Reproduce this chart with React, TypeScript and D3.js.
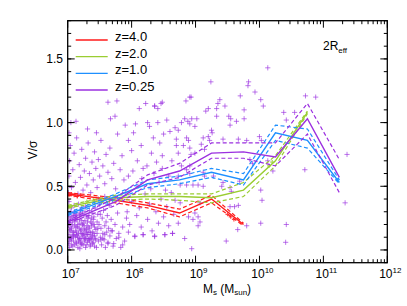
import React from "react";
import * as d3 from "d3";

// ---------- data ----------
const binLogM = [7.0, 7.75, 8.25, 8.75, 9.25, 9.75, 10.25, 10.75, 11.25];

const redMid = [0.44, 0.39, 0.35, 0.29, 0.40, 0.20];
const redUp = [0.45, 0.41, 0.37, 0.32, 0.43, 0.21];
const redLo = [0.43, 0.37, 0.33, 0.26, 0.37, 0.19];

const greenMid = [0.34, 0.41, 0.42, 0.42, 0.41, 0.47, 0.70, 1.08];
const greenUp = [0.35, 0.43, 0.44, 0.44, 0.44, 0.53, 0.74, 1.09];
const greenLo = [0.33, 0.39, 0.40, 0.39, 0.37, 0.42, 0.66, 1.07];

const blueMid = [0.28, 0.42, 0.52, 0.55, 0.61, 0.55, 0.92, 0.86, 0.53];
const blueUp = [0.29, 0.44, 0.55, 0.58, 0.64, 0.60, 0.98, 0.95, 0.55];
const blueLo = [0.27, 0.40, 0.49, 0.52, 0.57, 0.51, 0.86, 0.80, 0.52];

const purpleMid = [0.22, 0.38, 0.55, 0.62, 0.76, 0.77, 0.73, 1.03, 0.57];
const purpleUp = [0.23, 0.41, 0.59, 0.68, 0.84, 0.84, 0.84, 1.15, 0.71];
const purpleLo = [0.21, 0.35, 0.51, 0.57, 0.72, 0.72, 0.66, 0.91, 0.45];

const seriesNames = ["z=4.0", "z=2.0", "z=1.0", "z=0.25"];
const seriesColors = ["#ff1a1a", "#9acd32", "#1e90ff", "#9b30e0"];

// purple scatter (z=0.25): log10 stellar mass, V/sigma
const scatLogM = [
  7.01, 7.02, 7.03, 7.04, 7.05, 7.06, 7.07, 7.08, 7.09, 7.10,
  7.11, 7.12, 7.13, 7.14, 7.15, 7.16, 7.17, 7.18, 7.19, 7.20,
  7.21, 7.22, 7.23, 7.24, 7.25, 7.26, 7.27, 7.28, 7.29, 7.30,
  7.31, 7.32, 7.33, 7.34, 7.35, 7.36, 7.37, 7.38, 7.39, 7.40,
  7.41, 7.42, 7.43, 7.44, 7.45,
  7.02, 7.05, 7.07, 7.09, 7.11, 7.13, 7.15, 7.17, 7.19, 7.21,
  7.23, 7.25, 7.27, 7.29, 7.31, 7.33, 7.35, 7.37, 7.39, 7.41,
  7.03, 7.06, 7.08, 7.10, 7.12, 7.14, 7.16, 7.18, 7.20, 7.22,
  7.24, 7.26, 7.28, 7.30, 7.32, 7.34, 7.36, 7.38, 7.40, 7.42,
  7.01, 7.04, 7.06, 7.09, 7.12, 7.15, 7.18, 7.21, 7.24, 7.27,
  7.00, 7.02, 7.04, 7.07, 7.09, 7.11, 7.13, 7.16, 7.18, 7.20,
  7.22, 7.25, 7.27, 7.29, 7.32, 7.34, 7.37, 7.39, 7.43, 7.46,
  7.01, 7.03, 7.05, 7.08, 7.10, 7.14, 7.17, 7.19, 7.23, 7.26,
  7.28, 7.31, 7.33, 7.36, 7.38, 7.41, 7.44, 7.47, 7.51, 7.55,
  7.00, 7.03, 7.06, 7.11, 7.14, 7.19, 7.22, 7.30, 7.35, 7.42,
  7.46, 7.47, 7.48, 7.49, 7.50, 7.51, 7.52, 7.53, 7.54, 7.55,
  7.56, 7.57, 7.58, 7.59, 7.60, 7.61, 7.62, 7.63, 7.64, 7.65,
  7.66, 7.68, 7.70, 7.72, 7.74, 7.76, 7.78, 7.80, 7.83, 7.86,
  7.89, 7.92, 7.95, 7.48, 7.58,
  7.01, 7.02, 7.03, 7.04, 7.06, 7.08, 7.10, 7.12, 7.14, 7.16,
  7.18, 7.20, 7.22, 7.24, 7.26, 7.28, 7.30, 7.32, 7.34, 7.36,
  7.38, 7.40, 7.42, 7.44, 7.46, 7.48, 7.50, 7.52, 7.55, 7.58,
  7.60, 7.63, 7.66, 7.69, 7.72, 7.75, 7.78, 7.82, 7.85, 7.88,
  7.02, 7.05, 7.13, 7.31, 7.45,
  7.90, 7.95, 8.00, 8.03, 8.06, 8.09, 8.12, 8.15, 8.18, 8.22,
  8.25, 8.28, 8.31, 8.34, 8.36, 8.39, 8.41, 8.41, 8.44, 8.46,
  8.48, 8.50, 7.63, 7.67, 7.74, 7.77,
  7.90, 7.93, 7.97, 8.00, 8.05, 8.08, 8.12, 8.15, 8.18, 8.21,
  8.25, 8.28, 8.32, 8.36, 8.38, 8.42, 8.46, 8.50, 8.52, 8.55,
  8.58, 8.62, 8.64, 8.66,
  7.95, 8.02, 8.10, 8.16, 8.24, 8.30, 8.35, 8.43, 8.48, 8.53, 8.58, 8.63,
  10.13, 9.24, 9.83, 9.82, 9.93, 9.70, 8.91, 10.02, 10.06, 9.38,
  9.35, 9.46, 9.33, 9.20, 9.16, 9.76, 9.52, 9.55, 9.64, 9.76,
  9.33, 8.83, 8.88, 8.94, 9.02, 8.78, 8.91, 8.99, 8.68, 8.73,
  9.25, 9.26, 9.54, 8.86, 8.89, 8.70, 9.12, 9.20, 9.22, 9.43,
  9.67, 9.80, 8.81, 8.91, 8.93, 8.70, 8.73, 9.09, 9.14, 8.99,
  10.00, 10.03, 9.85, 9.89, 10.13, 10.21, 8.78, 8.86, 8.91, 8.73,
  8.91, 9.12, 9.14, 9.28, 9.41, 9.54, 9.56, 8.76, 8.86, 8.96,
  9.04, 9.12, 9.43, 9.69, 10.02, 10.04, 9.67, 8.68, 8.76, 9.07,
  8.99, 9.04, 9.54, 9.61, 8.89, 8.96, 8.73, 9.07, 9.04, 9.80,
  10.02, 8.83, 8.94, 9.48,
  10.72, 10.88, 10.38, 10.55, 10.42, 11.37, 10.71, 11.34, 10.42, 10.41,
  8.85, 8.93, 8.48, 8.36, 8.60, 8.55,
  8.05, 8.18, 8.36, 8.52, 8.64, 9.66,
  7.52, 7.58, 7.63, 7.68, 7.71, 7.80, 7.86,
];
const scatV = [
  0.05, 0.12, 0.21, 0.30, 0.08, 0.17, 0.26, 0.03, 0.14, 0.35,
  0.22, 0.10, 0.06, 0.28, 0.18, 0.02, 0.13, 0.24, 0.09, 0.31,
  0.16, 0.05, 0.20, 0.11, 0.27, 0.07, 0.15, 0.34, 0.04, 0.19,
  0.12, 0.25, 0.08, 0.17, 0.03, 0.22, 0.10, 0.29, 0.14, 0.06,
  0.20, 0.11, 0.33, 0.16, 0.02,
  0.38, 0.25, 0.14, 0.07, 0.30, 0.18, 0.11, 0.36, 0.21, 0.04,
  0.29, 0.13, 0.23, 0.16, 0.06, 0.27, 0.12, 0.19, 0.05, 0.26,
  0.16, 0.04, 0.23, 0.12, 0.27, 0.05, 0.20, 0.08, 0.15, 0.33,
  0.19, 0.10, 0.02, 0.26, 0.09, 0.31, 0.14, 0.08, 0.24, 0.18,
  0.19, 0.10, 0.33, 0.27, 0.15, 0.24, 0.17, 0.09, 0.04, 0.30,
  0.09, 0.26, 0.15, 0.20, 0.11, 0.04, 0.24, 0.10, 0.29, 0.06,
  0.13, 0.21, 0.08, 0.12, 0.18, 0.07, 0.25, 0.11, 0.09, 0.22,
  0.28, 0.07, 0.18, 0.11, 0.29, 0.14, 0.07, 0.27, 0.12, 0.17,
  0.09, 0.22, 0.14, 0.04, 0.21, 0.13, 0.08, 0.17, 0.28, 0.09,
  0.22, 0.02, 0.09, 0.19, 0.12, 0.01, 0.23, 0.14, 0.09, 0.03,
  0.13, 0.28, 0.07, 0.20, 0.36, 0.10, 0.17, 0.04, 0.25, 0.13,
  0.31, 0.08, 0.19, 0.02, 0.22, 0.14, 0.27, 0.06, 0.17, 0.35,
  0.11, 0.24, 0.15, 0.05, 0.20, 0.09, 0.29, 0.13, 0.02, 0.18,
  0.07, 0.25, 0.14, 0.40, 0.42,
  0.45, 0.58, 0.70, 0.82, 0.49, 0.63, 0.76, 0.53, 0.88, 0.44,
  0.67, 0.57, 0.79, 0.47, 0.62, 0.72, 0.51, 0.84, 0.60, 0.45,
  0.69, 0.55, 0.77, 0.64, 0.49, 0.71, 0.58, 0.86, 0.66, 0.52,
  0.75, 0.61, 0.80, 0.56, 0.68, 0.48, 0.91, 0.63, 0.74, 0.55,
  0.92, 1.00, 1.01, 0.95, 0.92,
  0.98, 0.86, 0.78, 0.92, 0.99, 0.70, 1.11, 0.82, 0.64, 1.15,
  1.00, 0.97, 0.76, 0.88, 1.13, 0.69, 1.11, 1.00, 0.84, 1.15,
  0.74, 0.91, 1.16, 1.03, 1.05, 1.17,
  0.45, 0.30, 0.20, 0.38, 0.11, 0.27, 0.33, 0.18, 0.12, 0.44,
  0.24, 0.36, 0.15, 0.11, 0.30, 0.21, 0.40, 0.26, 0.12, 0.34,
  0.19, 0.45, 0.13, 0.28,
  0.58, 0.62, 0.50, 0.56, 0.66, 0.48, 0.60, 0.53, 0.64, 0.47, 0.58, 0.70,
  1.43, 1.32, 1.32, 1.29, 1.24, 1.21, 1.20, 1.18, 1.13, 1.18,
  1.15, 1.13, 1.11, 1.11, 1.09, 1.10, 1.05, 1.03, 1.01, 1.03,
  1.05, 1.03, 1.01, 1.03, 1.03, 1.00, 0.99, 0.97, 0.96, 0.94,
  0.94, 0.92, 0.98, 0.88, 0.86, 0.87, 0.88, 0.89, 0.86, 0.87,
  0.87, 0.86, 0.82, 0.80, 0.75, 0.82, 0.76, 0.83, 0.79, 0.76,
  0.89, 0.86, 0.71, 0.68, 0.70, 0.62, 0.66, 0.63, 0.66, 0.58,
  0.60, 0.61, 0.58, 0.58, 0.50, 0.49, 0.46, 0.51, 0.51, 0.51,
  0.51, 0.50, 0.53, 0.54, 0.47, 0.39, 0.35, 0.39, 0.37, 0.37,
  0.29, 0.26, 0.34, 0.34, 0.26, 0.24, 0.21, 0.22, 0.19, 0.19,
  0.21, 0.09, 0.01, 0.07,
  1.21, 1.20, 1.08, 1.08, 1.02, 0.75, 0.63, 0.37, 0.20, 0.06,
  1.17, 1.20, 1.16, 1.13, 0.93, 1.02,
  0.105, 0.12, 0.105, 0.12, 0.13, 0.16,
  0.08, 0.12, 0.05, 0.15, 0.03, 0.10, 0.04,
];

// other redshift points that sit on their curves
const redPtsLogM = [7.02, 7.06, 7.10, 7.15, 7.20, 9.50, 9.55, 9.60];
const redPtsV = [0.43, 0.44, 0.43, 0.42, 0.43, 0.28, 0.26, 0.24];
const greenPtsLogM = [7.02, 7.05, 7.30, 7.40, 7.50, 10.15, 10.20];
const greenPtsV = [0.34, 0.34, 0.38, 0.39, 0.40, 0.66, 0.69];
const bluePtsLogM = [7.62, 7.70, 11.22];
const bluePtsV = [0.36, 0.39, 0.55];

const xMajor = [7, 8, 9, 10, 11, 12];
const yMajor = [0.0, 0.5, 1.0, 1.5];

// ---------- layout ----------
const W = 407, H = 306;
const L = 67.7, R = 387.3, T = 20.7, B = 262.7;
const FONT = "'Liberation Sans', Arial, Helvetica, sans-serif";

export default function App() {
  const x = d3.scaleLog().domain([1e7, 1e12]).range([L, R]);
  const y = d3.scaleLinear().domain([-0.1, 1.8]).range([B, T]);
  const px = (m: number) => x(Math.pow(10, m));

  const line = d3
    .line<[number, number]>()
    .x((d) => px(d[0]))
    .y((d) => y(d[1]));

  const mk = (vals: number[]) => line(vals.map((v, i) => [binLogM[i], v] as [number, number])) || "";

  const groups = [
    { mid: redMid, up: redUp, lo: redLo },
    { mid: greenMid, up: greenUp, lo: greenLo },
    { mid: blueMid, up: blueUp, lo: blueLo },
    { mid: purpleMid, up: purpleUp, lo: purpleLo },
  ];

  const minorX: number[] = [];
  for (let e = 7; e < 12; e++) for (let k = 2; k <= 9; k++) minorX.push(k * Math.pow(10, e));
  const minorY: number[] = [];
  for (let i = -1; i <= 18; i++) minorY.push(i / 10);

  const plus = (cx: number, cy: number, s: number) =>
    `M${cx - s},${cy}H${cx + s}M${cx},${cy - s}V${cy + s}`;

  const redPath = redPtsLogM.map((m, i) => plus(px(m), y(redPtsV[i]), 2)).join("");
  const greenPath = greenPtsLogM.map((m, i) => plus(px(m), y(greenPtsV[i]), 2)).join("");
  const bluePath = bluePtsLogM.map((m, i) => plus(px(m), y(bluePtsV[i]), 2)).join("");

  const legendY = [40, 56.7, 73.3, 90];

  return (
    <svg
      width={W}
      height={H}
      style={{ position: "absolute", left: 0, top: 0, background: "#fff" }}
      fontFamily={FONT}
    >
      <defs>
        <clipPath id="plotclip">
          <rect x={L} y={T} width={R - L} height={B - T} />
        </clipPath>
      </defs>
      <g clipPath="url(#plotclip)">
        <g stroke="#9a2fe0" strokeOpacity={0.65} strokeWidth={1} fill="none">
          {scatLogM.map((m, i) => (
            <path key={i} d={plus(px(m), y(scatV[i]), 2.6)} />
          ))}
        </g>
        <path d={redPath} stroke="#ff1a1a" strokeOpacity={0.8} strokeWidth={1.2} fill="none" />
        <path d={greenPath} stroke="#9acd32" strokeOpacity={0.8} strokeWidth={1.2} fill="none" />
        <path d={bluePath} stroke="#1e90ff" strokeOpacity={0.8} strokeWidth={1.2} fill="none" />
        {groups.map((g, i) => (
          <g key={i} stroke={seriesColors[i]} fill="none">
            <path d={mk(g.up)} strokeWidth={1.2} strokeDasharray="4,2.5" />
            <path d={mk(g.lo)} strokeWidth={1.2} strokeDasharray="4,2.5" />
            <path d={mk(g.mid)} strokeWidth={1.4} />
          </g>
        ))}
      </g>

      {/* frame */}
      <rect x={L} y={T} width={R - L} height={B - T} fill="none" stroke="#000" strokeWidth={1.3} />

      {/* ticks */}
      <g stroke="#000" strokeWidth={1}>
        {xMajor.map((e) => {
          const xx = x(Math.pow(10, e));
          return (
            <g key={"xm" + e}>
              <line x1={xx} x2={xx} y1={B} y2={B - 7} />
              <line x1={xx} x2={xx} y1={T} y2={T + 7} />
            </g>
          );
        })}
        {minorX.map((v, i) => {
          const xx = x(v);
          return (
            <g key={"xn" + i}>
              <line x1={xx} x2={xx} y1={B} y2={B - 3.5} />
              <line x1={xx} x2={xx} y1={T} y2={T + 3.5} />
            </g>
          );
        })}
        {yMajor.map((v) => (
          <g key={"ym" + v}>
            <line x1={L} x2={L + 7} y1={y(v)} y2={y(v)} />
            <line x1={R} x2={R - 7} y1={y(v)} y2={y(v)} />
          </g>
        ))}
        {minorY.map((v, i) => (
          <g key={"yn" + i}>
            <line x1={L} x2={L + 3.5} y1={y(v)} y2={y(v)} />
            <line x1={R} x2={R - 3.5} y1={y(v)} y2={y(v)} />
          </g>
        ))}
      </g>

      {/* x tick labels */}
      {xMajor.map((e) => (
        <text key={"xl" + e} x={x(Math.pow(10, e)) + 3} y={278} fontSize={12} textAnchor="middle" fill="#000">
          <tspan>10</tspan>
          <tspan dy={-5} fontSize={8}>{e}</tspan>
        </text>
      ))}

      {/* y tick labels */}
      {yMajor.map((v) => (
        <text key={"yl" + v} x={63} y={y(v) + 4.3} fontSize={12} textAnchor="end" fill="#000">
          {v.toFixed(1)}
        </text>
      ))}

      {/* axis titles */}
      <text x={227} y={293} fontSize={12} textAnchor="middle" fill="#000">
        <tspan>M</tspan>
        <tspan fontSize={8} dy={2}>s</tspan>
        <tspan dy={-2}> (M</tspan>
        <tspan fontSize={8} dy={2}>sun</tspan>
        <tspan dy={-2}>)</tspan>
      </text>
      <text transform="translate(36.5,150) rotate(-90)" fontSize={12} textAnchor="middle" fill="#000">
        V/σ
      </text>

      {/* legend */}
      {seriesNames.map((n, i) => (
        <g key={n}>
          <line x1={75.7} x2={107.7} y1={legendY[i]} y2={legendY[i]} stroke={seriesColors[i]} strokeWidth={1.3} />
          <text x={115} y={legendY[i] + 0.8} fontSize={13} fill="#000">
            {n}
          </text>
        </g>
      ))}

      {/* annotation */}
      <text x={323} y={50} fontSize={12} fill="#000">
        <tspan>2R</tspan>
        <tspan fontSize={8} dy={3}>eff</tspan>
      </text>
    </svg>
  );
}
